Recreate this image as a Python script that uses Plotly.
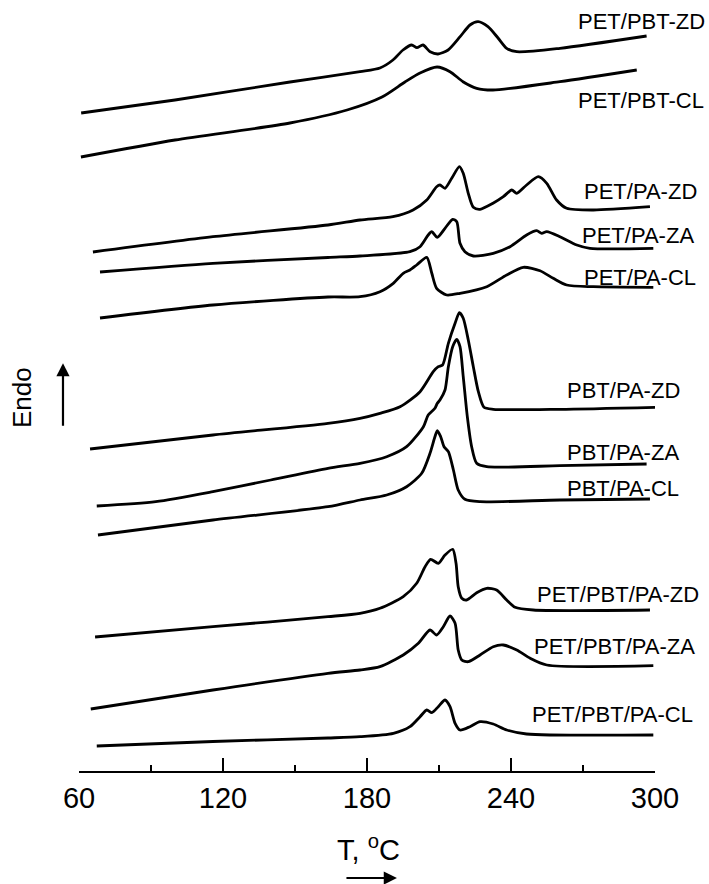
import plotly.graph_objects as go

# ---- data: temperature (°C) and endothermic heat flow (arbitrary units, curves offset) ----
pet_pbt_zd_T = [60.9, 100, 147.9, 177.1, 185.4, 190.8, 195, 198.6, 200.8, 203.3, 206.3, 209.6, 213.8, 218.8, 222.9, 226.3, 230.4, 234.6, 238.2, 242.4, 260.4, 296.5]
pet_pbt_zd_H = [658, 671, 689, 699.3, 703, 711, 721, 726, 723.3, 726, 719.3, 717, 721, 734.3, 746, 749.3, 744.3, 733, 722.7, 719.3, 722.7, 735]

pet_pbt_cl_T = [60.8, 100, 147.9, 171.7, 186.25, 195.8, 202.1, 209.2, 214.6, 220, 225.7, 232.5, 260.4, 292.4]
pet_pbt_cl_H = [614, 631, 648, 661, 674, 689, 698, 704, 699.3, 689.3, 682.7, 681, 689.3, 701]

pet_pa_zd_T = [65.8, 115.8, 163.75, 177.1, 190.8, 199.2, 204.9, 209, 210.4, 212.5, 215.3, 218.5, 220.1, 222.2, 224.3, 227.1, 232.5, 236.8, 240.3, 242.4, 246.5, 251.4, 254.9, 259, 263.2, 274.3, 297.9]
pet_pa_zd_H = [519, 534.3, 546, 551, 554.3, 561, 571, 584.3, 586, 582.7, 592.7, 604.3, 597.7, 577.7, 563.7, 561.7, 567.7, 574.3, 581, 577.7, 586, 594.3, 587.7, 571, 562.7, 561, 564.3]

pet_pa_za_T = [68.75, 115.8, 163.75, 177.1, 197.9, 202.1, 205.5, 207, 209.3, 212.5, 215.7, 217.4, 218.75, 220.8, 224.3, 232.6, 239.6, 246.5, 250.7, 252.8, 254.9, 260.4, 267.4, 272.9, 299.3]
pet_pa_za_H = [499, 507.7, 513.5, 515, 519.3, 524.3, 536, 539.3, 533.7, 542.7, 551.7, 549.3, 527.7, 519.3, 515, 517.7, 524.3, 536, 540.3, 537.7, 539.3, 534.3, 526, 522.7, 522.7]

pet_pa_cl_T = [68.75, 115.8, 163.75, 177.1, 185.4, 190.95, 195.1, 197.9, 200.7, 204.9, 207, 209, 213.2, 218.75, 229.9, 238.2, 245.1, 252.1, 257.6, 263.2, 274.3, 299.3]
pet_pa_cl_H = [453, 466, 474, 474.3, 479.3, 487.7, 497.7, 501, 506, 513.7, 497.7, 482.7, 476, 477.7, 484.3, 496, 503.7, 500.3, 492.7, 486, 484.3, 483.7]

pbt_pa_zd_T = [64.6, 115.8, 163.75, 177.1, 185.4, 193.75, 202.1, 207.6, 209.7, 211.5, 213.9, 216.7, 218.5, 220.1, 222.2, 224.3, 226.4, 228.75, 232.6, 260.4, 300]
pbt_pa_zd_H = [322, 336, 347.7, 352.7, 357.7, 364.3, 379.3, 399.3, 404.3, 406, 427.7, 447.7, 458.3, 452.7, 431, 404.3, 379.3, 363.7, 361.7, 361.7, 363.7]

pbt_pa_za_T = [67.4, 92, 115.8, 139.9, 163.75, 177.1, 188.2, 196.5, 203.5, 205.5, 208.3, 209.3, 210.4, 212.5, 213.9, 215.7, 217.4, 218.75, 220.1, 221.8, 223.6, 225.7, 229.9, 260.4, 296.5]
pbt_pa_za_H = [265, 269.3, 279.3, 291, 302.7, 307.7, 314.3, 324.3, 344.3, 356, 362.7, 367.7, 371, 381, 404.3, 424.3, 431.7, 424.3, 394.3, 354.3, 324.3, 307.7, 304.3, 305.3, 307]

pbt_pa_cl_T = [67.9, 115.8, 163.75, 177.1, 188.2, 196.5, 202.8, 206.25, 208.3, 209.3, 210.7, 212.1, 213.9, 216, 218, 220.8, 227.1, 260.4, 297.9]
pbt_pa_cl_H = [236, 251, 264.3, 271, 276, 284.3, 297.7, 317.7, 334.3, 340.3, 334.3, 324.3, 319.3, 301, 281, 271.7, 269.3, 271, 272]

pet_pbt_pa_zd_T = [66.7, 115.8, 163.75, 177.1, 185.4, 195.1, 200.7, 204.2, 206.5, 209.7, 212.5, 215.7, 217.1, 218, 219.5, 221.5, 225.7, 229.9, 234, 238.2, 241.7, 249.3, 297.9]
pet_pbt_pa_zd_H = [134, 144.3, 154.3, 157.7, 162.7, 174.3, 187.7, 204.3, 211.7, 207.7, 216, 221.7, 207.7, 184.3, 172.7, 171, 178.3, 182.7, 181, 171, 163.7, 161, 161]

pet_pbt_pa_za_T = [64.9, 115.8, 163.75, 177.1, 185.4, 195.1, 201.4, 206.25, 209, 211.8, 214.6, 216.7, 218, 219.5, 222.2, 227.1, 232.6, 236.8, 242.4, 248, 254.9, 299.3]
pet_pbt_pa_za_H = [62, 81, 97.7, 101, 104.3, 116, 127.7, 141, 136, 144.3, 155, 147.7, 121, 111, 109.3, 116, 124.3, 126, 121, 112.7, 106, 105.3]

pet_pbt_pa_cl_T = [67.4, 115.8, 163.75, 177.1, 191, 197.9, 202.1, 204.9, 207, 209.7, 212.5, 214.6, 216.7, 218.75, 222.9, 227.1, 232.6, 238.2, 246.5, 299.3]
pet_pbt_pa_cl_H = [25, 29.5, 33, 34.3, 37.7, 44.3, 54.3, 61, 58.3, 64.3, 71, 64.3, 47.7, 41, 44.3, 49.3, 47, 41, 37, 36]

series_names = ["PET/PBT-ZD", "PET/PBT-CL", "PET/PA-ZD", "PET/PA-ZA", "PET/PA-CL",
                "PBT/PA-ZD", "PBT/PA-ZA", "PBT/PA-CL",
                "PET/PBT/PA-ZD", "PET/PBT/PA-ZA", "PET/PBT/PA-CL"]
series_T = [pet_pbt_zd_T, pet_pbt_cl_T, pet_pa_zd_T, pet_pa_za_T, pet_pa_cl_T,
            pbt_pa_zd_T, pbt_pa_za_T, pbt_pa_cl_T,
            pet_pbt_pa_zd_T, pet_pbt_pa_za_T, pet_pbt_pa_cl_T]
series_H = [pet_pbt_zd_H, pet_pbt_cl_H, pet_pa_zd_H, pet_pa_za_H, pet_pa_cl_H,
            pbt_pa_zd_H, pbt_pa_za_H, pbt_pa_cl_H,
            pet_pbt_pa_zd_H, pet_pbt_pa_za_H, pet_pbt_pa_cl_H]

# label anchor positions (left edge temperature, vertical level)
label_T = [267.0, 267.0, 269.6, 268.75, 269.6, 262.5, 262.5, 262.5, 250, 248.75, 247.9]
label_H = [750, 671, 579.5, 536, 494, 381, 319, 283, 177, 125, 57]

tick_vals = [60, 120, 180, 240, 300]

FONT = "Liberation Sans, Arial, Helvetica, sans-serif"

fig = go.Figure()
for name, T, H in zip(series_names, series_T, series_H):
    fig.add_trace(go.Scatter(x=T, y=H, mode="lines", name=name,
                             line=dict(color="black", width=2.8, shape="spline", smoothing=0.7),
                             showlegend=False, hoverinfo="skip"))

annotations = []
for name, lt, lh in zip(series_names, label_T, label_H):
    annotations.append(dict(x=lt, y=lh, xref="x", yref="y", text=name, showarrow=False,
                            xanchor="left", yanchor="middle",
                            font=dict(family=FONT, size=22, color="black")))

# axis title and direction arrows
annotations.append(dict(x=0.503, y=-0.1005, xref="paper", yref="paper", text="T, <sup>o</sup>C",
                        showarrow=False, xanchor="center", yanchor="middle",
                        font=dict(family=FONT, size=29, color="black")))
annotations.append(dict(x=0.552, y=-0.1388, xref="paper", yref="paper", text="",
                        showarrow=True, ax=-52, ay=0, arrowhead=2, arrowsize=1.2,
                        arrowwidth=2.2, arrowcolor="black"))
annotations.append(dict(x=-0.099, y=0.485, xref="paper", yref="paper", text="Endo",
                        showarrow=False, textangle=-90, xanchor="center", yanchor="middle",
                        font=dict(family=FONT, size=26, color="black")))
annotations.append(dict(x=-0.0278, y=0.529, xref="paper", yref="paper", text="",
                        showarrow=True, ax=0, ay=64, arrowhead=2, arrowsize=1.2,
                        arrowwidth=2.2, arrowcolor="black"))

fig.update_layout(
    width=709, height=884,
    margin=dict(l=79, r=54, t=0, b=113),
    paper_bgcolor="white", plot_bgcolor="white",
    annotations=annotations,
    xaxis=dict(range=[60, 300], showline=True, linecolor="black", linewidth=1.8,
               ticks="inside", ticklen=13, tickwidth=1.8, tickcolor="black",
               tickvals=tick_vals, ticktext=[str(v) for v in tick_vals],
               tickfont=dict(family=FONT, size=29, color="black"),
               minor=dict(dtick=30, tick0=60, ticks="inside", ticklen=6, tickwidth=1.5, tickcolor="black"),
               showgrid=False, zeroline=False, fixedrange=True),
    yaxis=dict(range=[0, 771], visible=False, showgrid=False, zeroline=False, fixedrange=True),
)

fig.write_html("out.html")
